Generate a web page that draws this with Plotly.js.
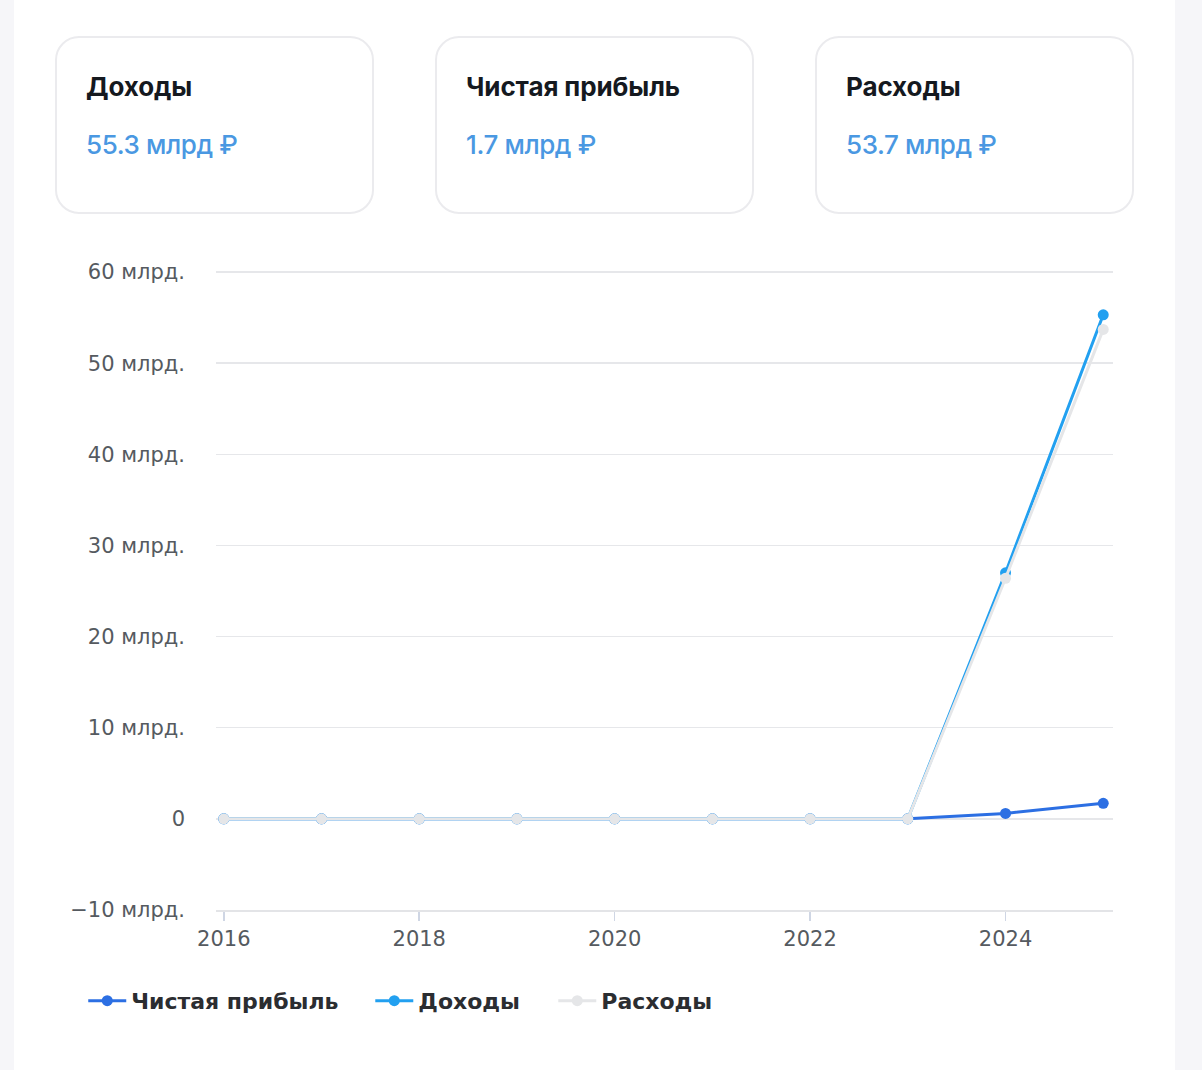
<!DOCTYPE html>
<html>
<head>
<meta charset="utf-8">
<script src="https://cdn.plot.ly/plotly-3.0.1.min.js"></script>
<style>
  html, body { margin: 0; padding: 0; width: 1202px; height: 1070px; overflow: hidden; background: #f6f6f9; }
  #panel { position: absolute; left: 14px; top: 0; width: 1161px; height: 1070px; background: #ffffff; }
  .card { position: absolute; top: 36px; width: 319px; height: 178px; border: 2px solid #ebebee; border-radius: 24px; background: #fff; box-sizing: border-box; font-family: Inter, "Noto Sans", sans-serif; }
  .card .t { position: absolute; left: 29px; top: 33px; font-size: 26px; font-weight: 700; color: #15191f; letter-spacing: -0.1px; }
  .card .v { position: absolute; left: 29px; top: 91px; font-size: 26px; font-weight: 500; color: #4a98e2; letter-spacing: -0.4px; }
  #chart { position: absolute; left: 0; top: 230px; width: 1161px; height: 840px; }
</style>
</head>
<body>
<div id="panel">
  <div class="card" style="left:41px"><div class="t" id="c1t"></div><div class="v" id="c1v"></div></div>
  <div class="card" style="left:421px"><div class="t" id="c2t"></div><div class="v" id="c2v"></div></div>
  <div class="card" style="left:801px"><div class="t" id="c3t"></div><div class="v" id="c3v"></div></div>
  <div id="chart"></div>
</div>
<script>
const years = [2016, 2017, 2018, 2019, 2020, 2021, 2022, 2023, 2024, 2025];
const netProfit = [0, 0, 0, 0, 0, 0, 0, 0, 0.6, 1.7];
const income = [0, 0, 0, 0, 0, 0, 0, 0, 27.0, 55.3];
const expenses = [0, 0, 0, 0, 0, 0, 0, 0, 26.4, 53.7];
const seriesNames = ["Чистая прибыль", "Доходы", "Расходы"];
const yTickVals = [-10, 0, 10, 20, 30, 40, 50, 60];
const yTickText = ["−10 млрд.", "0", "10 млрд.", "20 млрд.", "30 млрд.", "40 млрд.", "50 млрд.", "60 млрд."];
const cardTitles = ["Доходы", "Чистая прибыль", "Расходы"];
const cardValues = ["55.3 млрд ₽", "1.7 млрд ₽", "53.7 млрд ₽"];

document.getElementById('c1t').textContent = cardTitles[0];
document.getElementById('c1v').textContent = cardValues[0];
document.getElementById('c2t').textContent = cardTitles[1];
document.getElementById('c2v').textContent = cardValues[1];
document.getElementById('c3t').textContent = cardTitles[2];
document.getElementById('c3v').textContent = cardValues[2];

const colors = ["#2c6fe3", "#22a0f0", "#e5e6e8"];
const legendIds = ['legend', 'legend2', 'legend3'];
const traces = [netProfit, income, expenses].map((vals, i) => ({
  x: years, y: vals, name: seriesNames[i], type: 'scatter', mode: 'lines+markers',
  line: { color: colors[i], width: 3 },
  marker: { color: colors[i], size: 11 },
  legend: legendIds[i]
}));

const legendFont = { family: '"DejaVu Sans", sans-serif', size: 22, color: '#2b2d31', weight: 700 };
function mkLegend(x) {
  return { orientation: 'h', x: x, xanchor: 'left', y: -0.142, yanchor: 'middle', font: legendFont, bgcolor: 'rgba(0,0,0,0)', itemwidth: 38 };
}

const layout = {
  width: 1161, height: 840,
  margin: { l: 202, r: 62, t: 40, b: 160 },
  paper_bgcolor: '#ffffff', plot_bgcolor: '#ffffff',
  font: { family: '"DejaVu Sans", sans-serif', size: 21, color: '#555a60' },
  showlegend: true,
  legend: mkLegend(-0.148),
  legend2: mkLegend(0.172),
  legend3: mkLegend(0.376),
  xaxis: {
    range: [2015.92, 2025.1], tick0: 2016, dtick: 2, showgrid: false, zeroline: false,
    showline: true, linecolor: '#e3e4e7', linewidth: 2,
    ticks: 'outside', ticklen: 9, tickwidth: 1.5, tickcolor: '#cfd6e4',
    tickfont: { size: 21, color: '#555a60' }, fixedrange: true
  },
  yaxis: {
    range: [-10, 60.22], tickvals: yTickVals, ticktext: yTickText,
    showgrid: true, gridcolor: '#e6e7ea', gridwidth: 1.5, zeroline: false,
    ticks: '', ticklabelstandoff: 30,
    tickfont: { size: 21, color: '#555a60' }, fixedrange: true
  }
};

Plotly.newPlot('chart', traces, layout, { displayModeBar: false, staticPlot: true });
</script>
</body>
</html>
